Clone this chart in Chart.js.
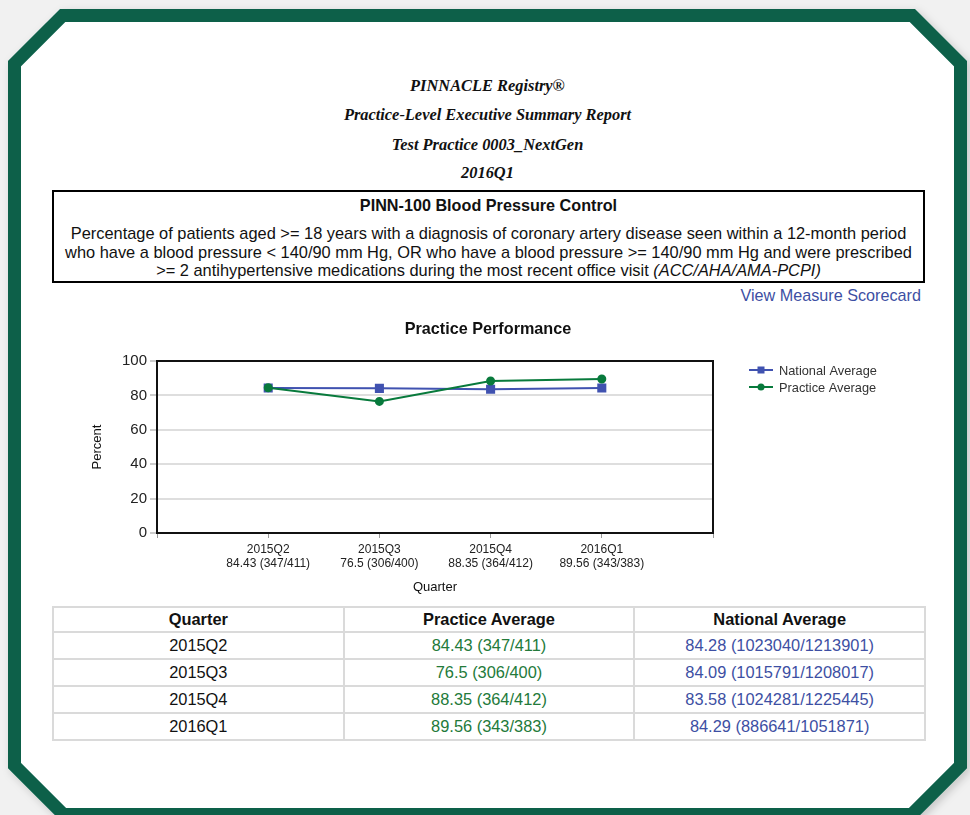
<!DOCTYPE html>
<html>
<head>
<meta charset="utf-8">
<title>PINN-100 Blood Pressure Control</title>
<script src="https://cdn.jsdelivr.net/npm/chart.js@4.4.1/dist/chart.umd.min.js"></script>
<style>
  html, body { margin: 0; padding: 0; }
  body { width: 970px; height: 815px; background: #f1f1f1; position: relative; overflow: hidden;
         font-family: Arial, "Liberation Sans", sans-serif; color: #111; }
  #frame { position: absolute; left: 0; top: 0; }
  .hdr { position: absolute; left: 0; width: 975px; text-align: center; height: 20px; line-height: 20px;
         font-family: "Times New Roman", "Liberation Serif", serif; font-style: italic; font-weight: bold; font-size: 16.4px; }
  #measure { position: absolute; left: 52px; top: 190px; width: 869px; height: 89px; border: 2px solid #000; background: #fff; }
  #measure .t { position: absolute; left: 0; width: 100%; top: 3px; text-align: center; font-weight: bold; font-size: 16.2px; line-height: 20px; }
  #measure .d { position: absolute; left: 0; width: 100%; top: 32px; text-align: center; font-size: 16.4px; line-height: 18.5px; }
  #scorecard { position: absolute; right: 49px; top: 285px; font-size: 16.2px; line-height: 20px; color: #3d4fa3; }
  #chartBox { position: absolute; left: 60px; top: 315px; width: 860px; height: 285px; }
  table { position: absolute; left: 52px; top: 606px; width: 874px; border-collapse: collapse; font-size: 16.4px; table-layout: fixed; }
  td, th { border: 2px solid #dadada; text-align: center; height: 25px; padding: 0; line-height: 25px; }
  th { font-weight: bold; height: 23px; line-height: 23px; }
  .pr { color: #237a3a; }
  .na { color: #3d4fa3; }
</style>
</head>
<body>
<svg id="frame" width="970" height="815">
  <defs>
    <filter id="sh" x="-5%" y="-5%" width="110%" height="110%">
      <feDropShadow dx="3" dy="3" stdDeviation="4" flood-color="#000" flood-opacity="0.18"/>
    </filter>
  </defs>
  <polygon points="62.7,15.5 912.3,15.5 960.5,63.7 960.5,765.5 911.5,814.5 63.5,814.5 14.5,765.5 14.5,63.7"
           fill="#fff" stroke="#08604a" stroke-width="13" filter="url(#sh)"/>
</svg>

<div class="hdr" style="top:76px">PINNACLE Registry®</div>
<div class="hdr" style="top:105px">Practice-Level Executive Summary Report</div>
<div class="hdr" style="top:135px">Test Practice 0003_NextGen</div>
<div class="hdr" style="top:163px">2016Q1</div>

<div id="measure">
  <div class="t">PINN-100 Blood Pressure Control</div>
  <div class="d">Percentage of patients aged &gt;= 18 years with a diagnosis of coronary artery disease seen within a 12-month period<br>
  who have a blood pressure &lt; 140/90 mm Hg, OR who have a blood pressure &gt;= 140/90 mm Hg and were prescribed<br>
  &gt;= 2 antihypertensive medications during the most recent office visit <i>(ACC/AHA/AMA-PCPI)</i></div>
</div>
<div id="scorecard">View Measure Scorecard</div>

<div id="chartBox"><canvas id="chart" width="860" height="285"></canvas></div>

<table id="tbl">
  <thead><tr><th>Quarter</th><th>Practice Average</th><th>National Average</th></tr></thead>
  <tbody></tbody>
</table>

<script>
// quarters and values
var quarters = ["2015Q2", "2015Q3", "2015Q4", "2016Q1"];
var practiceAvg = [84.43, 76.5, 88.35, 89.56];
var practiceNum = [347, 306, 364, 343];
var practiceDen = [411, 400, 412, 383];
var nationalAvg = [84.28, 84.09, 83.58, 84.29];
var nationalNum = [1023040, 1015791, 1024281, 886641];
var nationalDen = [1213901, 1208017, 1225445, 1051871];
var yTicks = [0, 20, 40, 60, 80, 100];

var blue = "#4052b0";
var green = "#087a3c";

function practiceText(i) {
	return practiceAvg[i] + " (" + practiceNum[i] + "/" + practiceDen[i] + ")";
}
function nationalText(i) {
	return nationalAvg[i] + " (" + nationalNum[i] + "/" + nationalDen[i] + ")";
}

// table under the chart
var tbody = document.querySelector("#tbl tbody");
quarters.forEach(function(q, i) {
	var tr = document.createElement("tr");
	tr.innerHTML = "<td>" + q + "</td><td class='pr'>" + practiceText(i) + "</td><td class='na'>" + nationalText(i) + "</td>";
	tbody.appendChild(tr);
});

// title, plot frame and legend drawn by hand
var decorPlugin = {
	id: "decor",
	afterDatasetsDraw: function(chart) {
		var ctx = chart.ctx, a = chart.chartArea;
		ctx.save();
		ctx.strokeStyle = "#111";
		ctx.lineWidth = 2;
		ctx.strokeRect(a.left, a.top, a.right - a.left, a.bottom - a.top);
		ctx.restore();
	},
	afterDraw: function(chart) {
		var ctx = chart.ctx;
		ctx.save();
		ctx.fillStyle = "#111";
		ctx.font = "bold 16.2px Arial, 'Liberation Sans'";
		ctx.textAlign = "center";
		ctx.textBaseline = "middle";
		ctx.fillText("Practice Performance", 428, 15);

		var items = [
			{ label: "National Average", color: blue, style: "rect" },
			{ label: "Practice Average", color: green, style: "circle" }
		];
		ctx.font = "12.8px Arial, 'Liberation Sans'";
		ctx.textAlign = "left";
		items.forEach(function(it, k) {
			var y = 55 + k * 17;
			ctx.strokeStyle = it.color;
			ctx.lineWidth = 2;
			ctx.beginPath();
			ctx.moveTo(689, y);
			ctx.lineTo(713, y);
			ctx.stroke();
			ctx.fillStyle = it.color;
			if (it.style === "rect") {
				ctx.fillRect(697.5, y - 3.5, 7, 7);
			} else {
				ctx.beginPath();
				ctx.arc(701, y, 3.5, 0, Math.PI * 2);
				ctx.fill();
			}
			ctx.fillStyle = "#333";
			ctx.fillText(it.label, 719, y + 1);
		});
		ctx.restore();
	}
};

function toPoints(arr) {
	return arr.map(function(v, i) { return { x: i + 1, y: v }; });
}

new Chart(document.getElementById("chart").getContext("2d"), {
	type: "line",
	data: {
		datasets: [{
			label: "National Average",
			data: toPoints(nationalAvg),
			borderColor: blue,
			backgroundColor: blue,
			borderWidth: 2,
			pointStyle: "rect",
			pointRadius: 5,
			pointHoverRadius: 5,
			order: 2
		}, {
			label: "Practice Average",
			data: toPoints(practiceAvg),
			borderColor: green,
			backgroundColor: green,
			borderWidth: 2,
			pointStyle: "circle",
			pointRadius: 3.5,
			pointHoverRadius: 3.5,
			order: 1
		}]
	},
	options: {
		responsive: false,
		animation: false,
		layout: { padding: { top: 46, right: 207, left: 0, bottom: 0 } },
		plugins: {
			legend: { display: false },
			title: { display: false },
			tooltip: { enabled: false }
		},
		scales: {
			x: {
				type: "linear",
				min: 0,
				max: 5,
				afterFit: function(s) { s.height = 67; },
				afterBuildTicks: function(s) {
					s.ticks = [0, 1, 2, 3, 4, 5].map(function(v) { return { value: v }; });
				},
				grid: { drawOnChartArea: false, drawTicks: true, tickLength: 5, tickColor: "#999", tickWidth: 1 },
				border: { display: false },
				ticks: {
					autoSkip: false,
					maxRotation: 0,
					padding: 5,
					color: "#222",
					font: { family: "Arial, 'Liberation Sans'", size: 12, lineHeight: 1.17 },
					callback: function(v) {
						var i = v - 1;
						if (i < 0 || i >= quarters.length) return "";
						return [quarters[i], practiceText(i)];
					}
				},
				title: {
					display: true,
					text: "Quarter",
					color: "#111",
					padding: { top: 5, bottom: 5 },
					font: { family: "Arial, 'Liberation Sans'", size: 13 }
				}
			},
			y: {
				min: 0,
				max: 100,
				afterFit: function(s) { s.width = 97; },
				afterBuildTicks: function(s) {
					s.ticks = yTicks.map(function(v) { return { value: v }; });
				},
				grid: {
					color: function(c) { return (c.tick && (c.tick.value === 0 || c.tick.value === 100)) ? "rgba(0,0,0,0)" : "#dedede"; },
					lineWidth: 2,
					tickLength: 7,
					tickColor: "#999",
					tickWidth: 1
				},
				border: { display: false },
				ticks: {
					padding: 3,
					color: "#222",
					font: { family: "Arial, 'Liberation Sans'", size: 15 }
				},
				title: {
					display: true,
					text: "Percent",
					color: "#111",
					padding: { top: 30, bottom: 30 },
					font: { family: "Arial, 'Liberation Sans'", size: 13 }
				}
			}
		}
	},
	plugins: [decorPlugin]
});
</script>
</body>
</html>
